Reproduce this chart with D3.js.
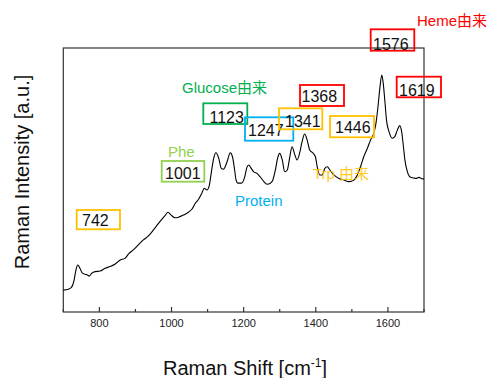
<!DOCTYPE html>
<html><head><meta charset="utf-8">
<script src="https://cdn.jsdelivr.net/npm/d3@7/dist/d3.min.js"></script>
<style>body{margin:0;background:#fff}svg{display:block}text{font-family:"Liberation Sans",Arial,sans-serif}</style>
</head><body><svg id="c" width="492" height="378"></svg>
<script>
// Spectrum (Raman shift cm^-1, intensity a.u.)
const shift = [700,714,723,730,735,740,746,753,760,767,772,779,788,802,816,830,844,858,871,881,894,908,922,936,950,964,973,983,990,999,1010,1019,1033,1047,1057,1066,1075,1084,1091,1098,1105,1110,1117,1123,1131,1138,1144,1154,1163,1169,1175,1179,1184,1194,1203,1209,1214,1221,1228,1237,1246,1256,1265,1274,1281,1288,1294,1300,1307,1314,1321,1328,1334,1342,1348,1355,1362,1369,1376,1383,1393,1399,1404,1411,1418,1425,1432,1439,1450,1464,1478,1492,1506,1515,1524,1533,1543,1552,1559,1566,1572,1578,1583,1587,1592,1596,1603,1612,1619,1626,1633,1638,1643,1647,1654,1663,1677,1686,1696,1700];
const intensity = [8.3,8.6,9.4,12.1,15.9,17.8,16.6,14.7,14.3,14.0,13.6,14.7,15.3,15.5,16.6,17.2,18.2,19.7,20.3,22.0,23.5,25.4,27.3,28.8,31.1,33.6,35.1,36.7,37.8,36.7,35.7,35.9,36.7,37.8,39.0,41.2,42.7,45.0,46.9,46.2,48.1,52.5,58.2,60.3,58.2,54.4,54.1,56.9,60.3,58.8,53.8,50.0,48.8,48.8,51.2,54.8,55.7,54.4,53.1,52.5,51.2,49.4,48.4,48.8,50.0,53.8,58.2,60.1,57.6,53.1,53.8,58.8,62.6,59.5,57.6,60.1,64.5,67.4,65.2,61.4,60.1,58.8,55.0,51.9,51.9,54.4,55.0,53.8,51.9,50.6,50.0,49.4,50.0,51.9,55.0,58.8,62.0,65.2,67.0,70.8,77.2,85.3,89.8,86.6,79.1,72.7,68.3,65.8,66.4,68.9,70.6,68.3,62.6,57.6,53.1,51.0,50.6,51.0,50.4,50.6];
const xTicks = [700,800,900,1000,1100,1200,1300,1400,1500,1600,1700];
const xTickLabels = [800,1000,1200,1400,1600];
// Peak labels and group labels
const peakLabels = ["742","1001","1123","1247","1341","1368","1446","1576","1619"];
const peakColors = ["#ffc000","#92d050","#00b050","#00b0f0","#ffc000","#ff0000","#ffc000","#ff0000","#ff0000"];
const groupLabels = ["Glucose由来","Phe","Protein","Trp 由来","Heme由来"];
const groupColors = ["#00b050","#92d050","#00b0f0","#ffc000","#ff0000"];

// layout (pixels): box x0,y0,x1,y1, text x, baseline
const boxLayout = [
  [76.7,210,120,229.3,82,226],
  [161.7,161,204.3,181.7,165,179],
  [203.3,103.3,247.3,124,209.5,122.5],
  [245,117.3,293.3,140.7,248,135.5],
  [279,108.3,322.3,129.3,285,127],
  [300,85,344,106,301.5,102],
  [330,116,374,137.3,335,133],
  [370.7,29.3,414.3,50.7,373,49.5],
  [396.7,76.7,441,97.3,399,96]
];
const groupLayout = [[182,93],[168,156.5],[235,206],[313,179],[417,26]];

const svg = d3.select("#c");
const L=63.3,R=424,T=48,B=312;
const x = d3.scaleLinear().domain([700,1700]).range([L,R]);
const y = d3.scaleLinear().domain([0,100]).range([B,T]);

// frame
svg.append("rect").attr("x",L).attr("y",T).attr("width",R-L).attr("height",B-T)
  .attr("fill","none").attr("stroke","#333").attr("stroke-width",1.2);

// x axis ticks (inward)
svg.append("g").selectAll("line").data(xTicks).join("line")
  .attr("x1",d=>x(d)).attr("x2",d=>x(d))
  .attr("y1",B).attr("y2",d=>B-(xTickLabels.includes(d)?5:3))
  .attr("stroke","#333").attr("stroke-width",1.2);
svg.append("g").selectAll("text").data(xTickLabels).join("text")
  .attr("x",d=>x(d)).attr("y",327).attr("text-anchor","middle")
  .attr("font-size",11).attr("fill","#222").text(d=>d);

// spectrum
const line = d3.line().x((d,i)=>x(shift[i])).y((d,i)=>y(intensity[i])).curve(d3.curveMonotoneX);
svg.append("path").datum(intensity).attr("d",line).attr("fill","none")
  .attr("stroke","#000").attr("stroke-width",1.1);

// group labels
svg.append("g").selectAll("text").data(groupLabels).join("text")
  .attr("x",(d,i)=>groupLayout[i][0]).attr("y",(d,i)=>groupLayout[i][1])
  .attr("font-size",15).attr("fill",(d,i)=>groupColors[i])
  .attr("opacity",(d,i)=>i===3?0.85:1)
  .style("font-family","'Liberation Sans','Noto Sans CJK JP',sans-serif").text(d=>d);

// peak boxes
const bx = svg.append("g").selectAll("g").data(peakLabels).join("g");
bx.append("rect").attr("x",(d,i)=>boxLayout[i][0]).attr("y",(d,i)=>boxLayout[i][1])
  .attr("width",(d,i)=>boxLayout[i][2]-boxLayout[i][0]).attr("height",(d,i)=>boxLayout[i][3]-boxLayout[i][1])
  .attr("fill","none").attr("stroke",(d,i)=>peakColors[i]).attr("stroke-width",1.8);
bx.append("text").attr("x",(d,i)=>boxLayout[i][4]).attr("y",(d,i)=>boxLayout[i][5])
  .attr("font-size",16).attr("fill","#111").text(d=>d);

// axis titles
const xt = svg.append("text").attr("x",245).attr("y",375).attr("text-anchor","middle")
  .attr("font-size",20).attr("fill","#111");
xt.append("tspan").text("Raman Shift [cm");
xt.append("tspan").attr("font-size",12).attr("dy",-8).text("-1");
xt.append("tspan").attr("dy",8).text("]");
svg.append("text").attr("transform","translate(29,172) rotate(-90)").attr("text-anchor","middle")
  .attr("font-size",20).attr("fill","#111").text("Raman Intensity [a.u.]");
</script></body></html>
